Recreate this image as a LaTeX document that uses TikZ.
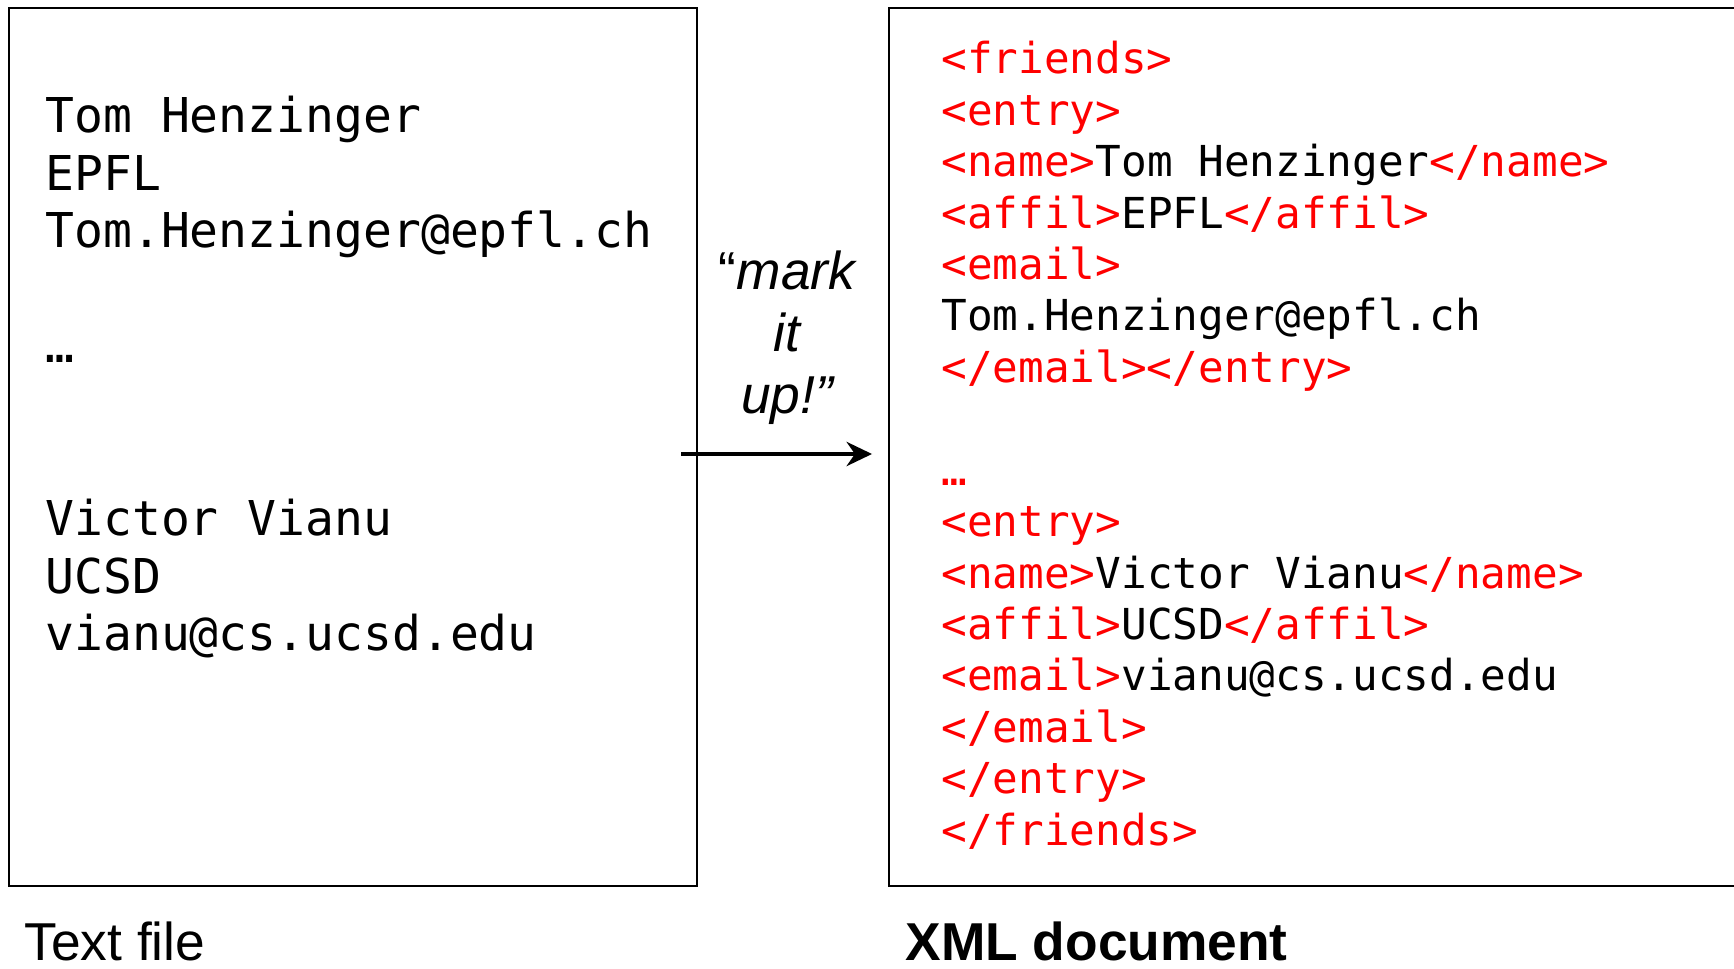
\documentclass[tikz,border=0pt]{standalone}
\usepackage{fontspec}
\setmainfont{Liberation Sans}
\newfontfamily\codefont{DejaVu Sans Mono}

\definecolor{tagred}{RGB}{255,0,0}
\newcommand{\tg}[1]{\textcolor{tagred}{#1}}

\tikzset{every picture/.style={line width=0.75pt}}
\tikzset{
  leftcode/.style={anchor=base west, inner sep=0pt, font=\codefont\fontsize{36}{43}\selectfont},
  xmlcode/.style={anchor=base west, inner sep=0pt, font=\codefont\fontsize{32}{38}\selectfont},
  markup/.style={anchor=base, inner sep=0pt, font=\itshape\fontsize{40}{48}\selectfont},
  caption/.style={anchor=base west, inner sep=0pt, font=\fontsize{40}{48}\selectfont},
  frame/.style={line width=2pt}
}

\begin{document}
\begin{tikzpicture}[x=0.75pt,y=0.75pt,yscale=-1,xscale=1]
	\useasboundingbox (0,0) rectangle (1734,969);

	%Shape: Rectangle [id:textfile]
	\draw [frame] (9,8) -- (697,8) -- (697,886) -- (9,886) -- cycle ;
	%Shape: Open rectangle [id:xmldoc]
	\draw [frame] (1734,8) -- (889,8) -- (889,886) -- (1734,886) ;

	% Text Node
	\draw (45,133) node [leftcode] (tomName) {Tom Henzinger};
	% Text Node
	\draw (45,190.5) node [leftcode] (tomAffil) {EPFL};
	% Text Node
	\draw (45,248) node [leftcode] (tomMail) {Tom.Henzinger@epfl.ch};
	% Text Node
	\draw (45,363) node [leftcode] (leftDots) {…};
	% Text Node
	\draw (45,535.5) node [leftcode] (vicName) {Victor Vianu};
	% Text Node
	\draw (45,593) node [leftcode] (vicAffil) {UCSD};
	% Text Node
	\draw (45,650.5) node [leftcode] (vicMail) {vianu@cs.ucsd.edu};

	% Text Node
	\draw (941,74) node [xmlcode] (xFriends) {\tg{<friends>}};
	% Text Node
	\draw (941,125.4) node [xmlcode] (xEntryA) {\tg{<entry>}};
	% Text Node
	\draw (941,176.8) node [xmlcode] (xNameA) {\tg{<name>}Tom Henzinger\tg{</name>}};
	% Text Node
	\draw (941,228.2) node [xmlcode] (xAffilA) {\tg{<affil>}EPFL\tg{</affil>}};
	% Text Node
	\draw (941,279.6) node [xmlcode] (xEmailA) {\tg{<email>}};
	% Text Node
	\draw (941,331) node [xmlcode] (xMailA) {Tom.Henzinger@epfl.ch};
	% Text Node
	\draw (941,382.4) node [xmlcode] (xCloseA) {\tg{</email></entry>}};
	% Text Node
	\draw (941,485.2) node [xmlcode] (xDots) {\tg{…}};
	% Text Node
	\draw (941,536.6) node [xmlcode] (xEntryB) {\tg{<entry>}};
	% Text Node
	\draw (941,588) node [xmlcode] (xNameB) {\tg{<name>}Victor Vianu\tg{</name>}};
	% Text Node
	\draw (941,639.4) node [xmlcode] (xAffilB) {\tg{<affil>}UCSD\tg{</affil>}};
	% Text Node
	\draw (941,690.8) node [xmlcode] (xEmailB) {\tg{<email>}vianu@cs.ucsd.edu};
	% Text Node
	\draw (941,742.2) node [xmlcode] (xCloseEmail) {\tg{</email>}};
	% Text Node
	\draw (941,793.6) node [xmlcode] (xCloseEntry) {\tg{</entry>}};
	% Text Node
	\draw (941,845) node [xmlcode] (xCloseFriends) {\tg{</friends>}};

	% Text Node
	\draw (787,290) node [markup] (markA) {{\upshape “}mark};
	% Text Node
	\draw (787,352) node [markup] (markB) {it};
	% Text Node
	\draw (787,414) node [markup] (markC) {up!”};

	%Straight Lines [id:markarrow]
	\coordinate (arrStart) at (681,454);
	\coordinate (arrStop) at (860,454);
	\coordinate (arrEnd) at (872,454);
	\draw [line width=3pt] (arrStart) -- (arrStop) ;
	\draw [shift={(arrEnd)}, rotate = 180, scale=2.4] [fill=black][line width=0.08]  [draw opacity=0] (10.72,-5.15) -- (0,0) -- (10.72,5.15) -- (7.12,0) -- cycle    ;

	% Text Node
	\draw (24,960) node [caption] (capText) {Text file};
	% Text Node
	\draw (905,960) node [caption, font=\bfseries\fontsize{40}{48}\selectfont] (capXml) {XML document};

\end{tikzpicture}
\end{document}
